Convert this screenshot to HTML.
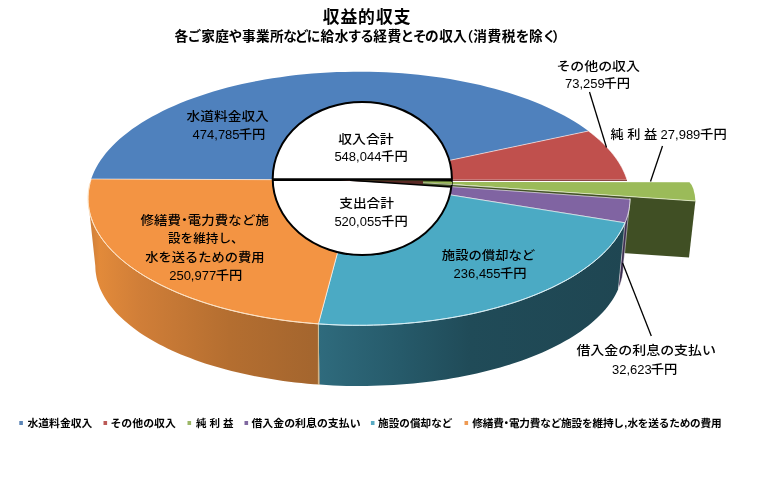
<!DOCTYPE html>
<html lang="ja"><head><meta charset="utf-8"><title>収益的収支</title>
<style>html,body{margin:0;padding:0;background:#fff}svg{display:block}</style></head>
<body>
<svg width="768" height="488" viewBox="0 0 768 488">
<defs>
<linearGradient id="gO" gradientUnits="userSpaceOnUse" x1="88" y1="0" x2="320" y2="0">
<stop offset="0" stop-color="#c97c3a"/><stop offset="0.05" stop-color="#e28a3a"/><stop offset="0.224" stop-color="#d07e38"/><stop offset="0.61" stop-color="#b46e30"/><stop offset="1" stop-color="#a3652e"/></linearGradient>
<linearGradient id="gT" gradientUnits="userSpaceOnUse" x1="318" y1="0" x2="628" y2="0">
<stop offset="0" stop-color="#2f6b7d"/><stop offset="0.265" stop-color="#265a6a"/><stop offset="0.49" stop-color="#204b58"/><stop offset="1" stop-color="#1f4652"/></linearGradient>
</defs>
<rect width="768" height="488" fill="#fff"/>
<path d="M423 182.4 L695.4 201 L689 257.5 L626 253.3 L600 251 L450 230 Z" fill="#404f24"/>
<path d="M318.4 323.9 L312.1 323.4 L305.8 322.8 L299.5 322.2 L293.2 321.5 L287.0 320.7 L280.9 319.9 L274.8 319.0 L268.7 318.1 L262.7 317.0 L256.7 315.9 L250.8 314.8 L244.9 313.5 L239.1 312.2 L233.4 310.9 L227.8 309.4 L222.2 308.0 L216.7 306.4 L211.3 304.8 L205.9 303.1 L200.7 301.4 L195.5 299.6 L190.5 297.8 L185.5 295.9 L180.6 294.0 L175.8 291.9 L171.1 289.9 L166.6 287.8 L162.1 285.6 L157.8 283.4 L153.5 281.2 L149.4 278.9 L145.4 276.5 L141.5 274.1 L137.7 271.7 L134.1 269.2 L130.6 266.7 L127.2 264.2 L123.9 261.6 L120.8 259.0 L117.8 256.3 L115.0 253.6 L112.2 250.9 L109.7 248.2 L107.2 245.4 L104.9 242.6 L102.7 239.8 L100.7 236.9 L98.9 234.0 L97.1 231.1 L95.6 228.2 L94.1 225.3 L92.8 222.4 L91.7 219.4 L90.7 216.5 L89.9 213.5 L89.2 210.5 L88.7 207.5 L88.3 204.5 L88.1 201.5 L88.0 198.5 L95.3 265.8 L95.4 268.6 L95.6 271.5 L96.0 274.3 L96.5 277.2 L97.1 280.0 L98.0 282.8 L98.9 285.6 L100.0 288.4 L101.3 291.2 L102.7 294.0 L104.2 296.7 L105.9 299.5 L107.7 302.2 L109.7 304.9 L111.8 307.6 L114.0 310.2 L116.4 312.9 L118.9 315.5 L121.6 318.1 L124.3 320.6 L127.3 323.1 L130.3 325.6 L133.5 328.1 L136.8 330.5 L140.2 332.9 L143.7 335.2 L147.4 337.5 L151.2 339.8 L155.1 342.0 L159.1 344.2 L163.3 346.3 L167.5 348.4 L171.8 350.4 L176.3 352.4 L180.9 354.4 L185.5 356.3 L190.3 358.1 L195.1 359.9 L200.1 361.7 L205.1 363.4 L210.2 365.0 L215.4 366.6 L220.7 368.1 L226.0 369.6 L231.5 371.0 L237.0 372.3 L242.5 373.6 L248.2 374.8 L253.9 376.0 L259.6 377.1 L265.4 378.1 L271.3 379.1 L277.2 380.0 L283.2 380.9 L289.2 381.7 L295.2 382.4 L301.3 383.1 L307.4 383.7 L313.6 384.2 L319.7 384.6Z" fill="url(#gO)"/>
<path d="M625.0 222.8 L623.6 226.0 L622.0 229.1 L620.2 232.2 L618.3 235.3 L616.2 238.4 L614.0 241.5 L611.5 244.5 L609.0 247.5 L606.2 250.4 L603.3 253.4 L600.2 256.3 L597.0 259.1 L593.6 261.9 L590.1 264.7 L586.4 267.4 L582.6 270.1 L578.6 272.8 L574.5 275.4 L570.3 277.9 L565.9 280.4 L561.3 282.8 L556.7 285.2 L551.9 287.6 L547.0 289.8 L542.0 292.0 L536.8 294.2 L531.5 296.3 L526.2 298.3 L520.7 300.3 L515.1 302.2 L509.4 304.0 L503.6 305.7 L497.7 307.4 L491.7 309.0 L485.7 310.6 L479.5 312.1 L473.3 313.5 L467.0 314.8 L460.7 316.0 L454.2 317.2 L447.7 318.3 L441.2 319.3 L434.6 320.3 L427.9 321.1 L421.2 321.9 L414.5 322.6 L407.7 323.2 L400.9 323.8 L394.1 324.2 L387.2 324.6 L380.4 324.9 L373.5 325.1 L366.6 325.3 L359.7 325.3 L352.8 325.3 L345.9 325.2 L339.0 325.0 L332.1 324.7 L325.2 324.3 L318.4 323.9 L319.7 384.6 L326.4 385.1 L333.1 385.4 L339.8 385.7 L346.5 385.9 L353.2 386.0 L359.9 386.0 L366.7 386.0 L373.4 385.8 L380.1 385.6 L386.8 385.3 L393.5 385.0 L400.1 384.6 L406.8 384.0 L413.4 383.5 L419.9 382.8 L426.4 382.0 L432.9 381.2 L439.4 380.3 L445.7 379.4 L452.1 378.3 L458.3 377.2 L464.5 376.0 L470.7 374.8 L476.7 373.5 L482.7 372.1 L488.6 370.6 L494.4 369.1 L500.2 367.5 L505.8 365.8 L511.4 364.1 L516.8 362.3 L522.1 360.4 L527.4 358.5 L532.5 356.5 L537.5 354.5 L542.4 352.4 L547.2 350.2 L551.9 348.0 L556.4 345.8 L560.8 343.4 L565.1 341.1 L569.3 338.7 L573.3 336.2 L577.1 333.7 L580.9 331.2 L584.4 328.6 L587.9 325.9 L591.2 323.3 L594.3 320.6 L597.3 317.8 L600.1 315.0 L602.8 312.2 L605.3 309.4 L607.7 306.5 L609.9 303.6 L611.9 300.7 L613.8 297.8 L615.5 294.8 L617.0 291.8 L618.4 288.8Z" fill="url(#gT)"/>
<path d="M630.0 198.5 L629.9 200.9 L629.8 203.4 L629.5 205.8 L629.2 208.3 L628.7 210.7 L628.2 213.1 L627.5 215.6 L626.8 218.0 L625.9 220.4 L625.0 222.8 L618.4 288.8 L619.3 286.6 L620.2 284.3 L620.9 282.0 L621.5 279.7 L622.1 277.4 L622.5 275.1 L622.9 272.7 L623.1 270.4 L623.3 268.1 L623.3 265.8Z" fill="#3d2f52" stroke="#fff" stroke-opacity="0.7" stroke-width="0.7"/>
<path d="M318.4 323.5 L318.4 385" stroke="#e6d3a8" stroke-width="0.8"/>
<path d="M357.0 180.0 L91.2 179.0 L92.6 175.2 L94.2 171.4 L96.1 167.7 L98.2 164.0 L100.6 160.3 L103.2 156.7 L106.0 153.0 L109.1 149.5 L112.4 146.0 L115.9 142.5 L119.6 139.1 L123.6 135.7 L127.8 132.4 L132.2 129.1 L136.8 125.9 L141.6 122.8 L146.6 119.8 L151.8 116.8 L157.2 113.9 L162.7 111.1 L168.5 108.3 L174.4 105.7 L180.5 103.1 L186.8 100.6 L193.2 98.2 L199.8 95.9 L206.5 93.7 L213.4 91.6 L220.4 89.5 L227.5 87.6 L234.7 85.8 L242.1 84.1 L249.6 82.5 L257.1 81.0 L264.8 79.6 L272.5 78.3 L280.4 77.2 L288.3 76.1 L296.2 75.1 L304.2 74.3 L312.3 73.6 L320.4 73.0 L328.6 72.5 L336.8 72.1 L345.0 71.9 L353.2 71.7 L361.4 71.7 L369.6 71.8 L377.8 72.0 L386.0 72.3 L394.2 72.8 L402.3 73.3 L410.4 74.0 L418.4 74.8 L426.4 75.7 L434.3 76.7 L442.2 77.8 L450.0 79.1 L457.7 80.4 L465.3 81.9 L472.8 83.4 L480.2 85.1 L487.5 86.9 L494.7 88.7 L501.7 90.7 L508.6 92.8 L515.4 95.0 L522.0 97.2 L528.5 99.6 L534.9 102.0 L541.0 104.6 L547.0 107.2 L552.9 109.9 L558.5 112.7 L564.0 115.6 L569.3 118.5 L574.4 121.5 L579.2 124.6 L583.9 127.8 L588.4 131.0Z" fill="#4f81bd"/>
<path d="M357.0 180.0 L588.4 131.0 L591.4 133.2 L594.2 135.5 L596.9 137.8 L599.6 140.1 L602.1 142.5 L604.5 144.8 L606.9 147.2 L609.1 149.7 L611.2 152.1 L613.2 154.6 L615.1 157.0 L616.9 159.5 L618.6 162.0 L620.1 164.6 L621.6 167.1 L622.9 169.7 L624.1 172.2 L625.2 174.8 L626.2 177.4 L627.1 180.0Z" fill="#c0504d" stroke="#fff" stroke-opacity="0.75" stroke-width="0.8" stroke-linejoin="round"/>
<path d="M357.0 180.0 L630.0 199.2 L629.9 201.6 L629.7 203.9 L629.5 206.3 L629.1 208.7 L628.7 211.1 L628.1 213.4 L627.5 215.8 L626.7 218.1 L625.9 220.5 L625.0 222.8Z" fill="#8064a2" stroke="#fff" stroke-opacity="0.75" stroke-width="0.8" stroke-linejoin="round"/>
<path d="M357.0 180.0 L625.0 222.8 L623.6 226.0 L622.0 229.1 L620.2 232.2 L618.3 235.3 L616.2 238.4 L614.0 241.5 L611.5 244.5 L609.0 247.5 L606.2 250.4 L603.3 253.4 L600.2 256.3 L597.0 259.1 L593.6 261.9 L590.1 264.7 L586.4 267.4 L582.6 270.1 L578.6 272.8 L574.5 275.4 L570.3 277.9 L565.9 280.4 L561.3 282.8 L556.7 285.2 L551.9 287.6 L547.0 289.8 L542.0 292.0 L536.8 294.2 L531.5 296.3 L526.2 298.3 L520.7 300.3 L515.1 302.2 L509.4 304.0 L503.6 305.7 L497.7 307.4 L491.7 309.0 L485.7 310.6 L479.5 312.1 L473.3 313.5 L467.0 314.8 L460.7 316.0 L454.2 317.2 L447.7 318.3 L441.2 319.3 L434.6 320.3 L427.9 321.1 L421.2 321.9 L414.5 322.6 L407.7 323.2 L400.9 323.8 L394.1 324.2 L387.2 324.6 L380.4 324.9 L373.5 325.1 L366.6 325.3 L359.7 325.3 L352.8 325.3 L345.9 325.2 L339.0 325.0 L332.1 324.7 L325.2 324.3 L318.4 323.9Z" fill="#4baac4" stroke="#fff" stroke-opacity="0.75" stroke-width="0.8" stroke-linejoin="round"/>
<path d="M357.0 180.0 L318.4 323.9 L311.4 323.3 L304.4 322.7 L297.4 322.0 L290.5 321.2 L283.7 320.3 L276.9 319.3 L270.1 318.3 L263.4 317.2 L256.8 315.9 L250.3 314.6 L243.8 313.3 L237.4 311.8 L231.1 310.3 L224.9 308.7 L218.7 307.0 L212.7 305.2 L206.7 303.4 L200.9 301.5 L195.2 299.5 L189.6 297.5 L184.1 295.4 L178.7 293.2 L173.5 290.9 L168.4 288.6 L163.4 286.2 L158.5 283.8 L153.8 281.3 L149.2 278.8 L144.8 276.2 L140.5 273.5 L136.4 270.8 L132.4 268.0 L128.6 265.2 L124.9 262.4 L121.4 259.5 L118.1 256.5 L114.9 253.6 L111.9 250.6 L109.1 247.5 L106.4 244.4 L103.9 241.3 L101.6 238.2 L99.5 235.0 L97.5 231.8 L95.7 228.6 L94.1 225.3 L92.7 222.1 L91.5 218.8 L90.4 215.5 L89.6 212.2 L88.9 208.9 L88.4 205.5 L88.1 202.2 L88.0 198.9 L88.1 195.6 L88.3 192.2 L88.8 188.9 L89.4 185.6 L90.2 182.3 L91.2 179.0Z" fill="#f39443" stroke="#fff" stroke-opacity="0.75" stroke-width="0.8" stroke-linejoin="round"/>
<path d="M440 180.4 L627 180.4" stroke="#7d3331" stroke-width="1"/>
<path d="M318.4 323.9 L311.5 323.3 L304.7 322.7 L297.9 322.0 L291.1 321.3 L284.4 320.4 L277.8 319.5 L271.2 318.5 L264.6 317.4 L258.1 316.2 L251.7 314.9 L245.3 313.6 L239.1 312.2 L232.9 310.7 L226.7 309.2 L220.7 307.6 L214.8 305.9 L208.9 304.1 L203.2 302.2 L197.6 300.3 L192.0 298.4 L186.6 296.3 L181.3 294.2 L176.1 292.1 L171.0 289.8 L166.1 287.5 L161.2 285.2 L156.6 282.8 L152.0 280.3 L147.6 277.8 L143.3 275.3 L139.2 272.6 L135.2 270.0 L131.3 267.3 L127.6 264.5 L124.1 261.7 L120.7 258.9 L117.4 256.0 L114.4 253.1 L111.5 250.1 L108.7 247.1 L106.1 244.1 L103.7 241.0 L101.5 238.0 L99.4 234.9 L97.5 231.7 L95.7 228.6 L94.2 225.4 L92.8 222.2 L91.6 219.0 L90.5 215.8 L89.7 212.6 L89.0 209.3 L88.5 206.1 L88.2 202.8 L88.0 199.6 L88.0 196.3 L88.3 193.1 L88.6 189.8 L89.2 186.6 L89.9 183.3" fill="none" stroke="#fde3c4" stroke-width="1"/>
<path d="M625.0 222.8 L623.6 226.0 L622.0 229.1 L620.2 232.2 L618.3 235.3 L616.2 238.4 L614.0 241.5 L611.5 244.5 L609.0 247.5 L606.2 250.4 L603.3 253.4 L600.2 256.3 L597.0 259.1 L593.6 261.9 L590.1 264.7 L586.4 267.4 L582.6 270.1 L578.6 272.8 L574.5 275.4 L570.3 277.9 L565.9 280.4 L561.3 282.8 L556.7 285.2 L551.9 287.6 L547.0 289.8 L542.0 292.0 L536.8 294.2 L531.5 296.3 L526.2 298.3 L520.7 300.3 L515.1 302.2 L509.4 304.0 L503.6 305.7 L497.7 307.4 L491.7 309.0 L485.7 310.6 L479.5 312.1 L473.3 313.5 L467.0 314.8 L460.7 316.0 L454.2 317.2 L447.7 318.3 L441.2 319.3 L434.6 320.3 L427.9 321.1 L421.2 321.9 L414.5 322.6 L407.7 323.2 L400.9 323.8 L394.1 324.2 L387.2 324.6 L380.4 324.9 L373.5 325.1 L366.6 325.3 L359.7 325.3 L352.8 325.3 L345.9 325.2 L339.0 325.0 L332.1 324.7 L325.2 324.3 L318.4 323.9" fill="none" stroke="#d5eef5" stroke-width="1"/>
<path d="M423 182 L689.5 182.3 Q694.5 187 695.4 201 Z" fill="#9bbb59"/>
<path d="M423 182.6 L695.4 201" stroke="#e8f0d0" stroke-width="0.8" fill="none"/>
<ellipse cx="362.3" cy="178.5" rx="89.6" ry="76.6" fill="#fff" stroke="#000" stroke-width="2"/>
<path d="M272.5 179.6 L451.5 179.6" stroke="#000" stroke-width="2.6"/>
<path d="M352 180.2 L423 180.6 L451 181 L451 187 Z" fill="#3a4a20"/>
<path d="M340 180.4 L423 180.8 L423 184.4 Z" fill="#5a2a25"/>
<path d="M423 181.6 L452 181.8 L452 184.1 L423 182.6 Z" fill="#9bbb59"/>
<path d="M423 182.8 L452 184.5" stroke="#e6efcf" stroke-width="0.7"/>
<path d="M350 180.2 L451.3 187" stroke="#000" stroke-width="1.5"/>
<path d="M589.5 92 L606.5 147.5" stroke="#000" stroke-width="1.3"/>
<path d="M662.5 146 L650.5 181.5" stroke="#000" stroke-width="1.3"/>
<path d="M622.6 262.9 L651.3 336.1" stroke="#000" stroke-width="1.3"/>
<text x="322.68 340.58 357.95 375.98 393.70" y="22.60" font-size="16.8" font-weight="700" fill="#000" font-family="'Liberation Sans','Noto Sans CJK JP',sans-serif">収益的収支</text>
<text x="174.57 187.47 201.30 215.22 228.48 241.88 255.88 270.05 283.20 294.65 306.85 320.38 334.73 347.85 360.27 373.15 387.62 400.43 412.88 425.12 439.15 453.12 459.70 473.30 487.48 501.82 515.77 528.95 542.42 552.28" y="41.10" font-size="13.7" font-weight="700" fill="#000" font-family="'Liberation Sans','Noto Sans CJK JP',sans-serif">各ご家庭や事業所などに給水する経費とその収入（消費税を除く）</text>
<text x="186.60" y="121.30" font-size="12.4" text-anchor="start" font-weight="500" fill="#000" font-family="'Liberation Sans','Noto Sans CJK JP',sans-serif" textLength="82.20" lengthAdjust="spacingAndGlyphs">水道料金収入</text>
<text y="138.70" font-size="12.4" font-weight="500" fill="#000" font-family="'Liberation Sans','Noto Sans CJK JP',sans-serif"><tspan x="192.60" font-size="12.0" font-weight="400" textLength="46.98" lengthAdjust="spacingAndGlyphs">474,785</tspan><tspan x="238.80" textLength="26.6" lengthAdjust="spacingAndGlyphs">千円</tspan></text>
<text x="556.40" y="71.10" font-size="12.4" text-anchor="start" font-weight="500" fill="#000" font-family="'Liberation Sans','Noto Sans CJK JP',sans-serif" textLength="83.60" lengthAdjust="spacingAndGlyphs">その他の収入</text>
<text y="88.00" font-size="12.4" font-weight="500" fill="#000" font-family="'Liberation Sans','Noto Sans CJK JP',sans-serif"><tspan x="565.00" font-size="12.0" font-weight="400" textLength="39.75" lengthAdjust="spacingAndGlyphs">73,259</tspan><tspan x="603.40" textLength="26.6" lengthAdjust="spacingAndGlyphs">千円</tspan></text>
<text y="138.80" font-size="12.4" font-weight="500" fill="#000" font-family="'Liberation Sans','Noto Sans CJK JP',sans-serif"><tspan x="610.4" textLength="50.6" lengthAdjust="spacingAndGlyphs">純 利 益 </tspan><tspan x="660.6" font-size="12.0" font-weight="400" textLength="39.75" lengthAdjust="spacingAndGlyphs">27,989</tspan><tspan x="700.1" textLength="26.6" lengthAdjust="spacingAndGlyphs">千円</tspan></text>
<text x="338.20" y="143.60" font-size="12.4" text-anchor="start" font-weight="500" fill="#000" font-family="'Liberation Sans','Noto Sans CJK JP',sans-serif" textLength="55.40" lengthAdjust="spacingAndGlyphs">収入合計</text>
<text y="161.30" font-size="12.4" font-weight="500" fill="#000" font-family="'Liberation Sans','Noto Sans CJK JP',sans-serif"><tspan x="334.40" font-size="12.0" font-weight="400" textLength="46.98" lengthAdjust="spacingAndGlyphs">548,044</tspan><tspan x="381.10" textLength="26.6" lengthAdjust="spacingAndGlyphs">千円</tspan></text>
<text x="339.20" y="208.00" font-size="12.4" text-anchor="start" font-weight="500" fill="#000" font-family="'Liberation Sans','Noto Sans CJK JP',sans-serif" textLength="54.80" lengthAdjust="spacingAndGlyphs">支出合計</text>
<text y="226.00" font-size="12.4" font-weight="500" fill="#000" font-family="'Liberation Sans','Noto Sans CJK JP',sans-serif"><tspan x="334.40" font-size="12.0" font-weight="400" textLength="46.98" lengthAdjust="spacingAndGlyphs">520,055</tspan><tspan x="381.10" textLength="26.6" lengthAdjust="spacingAndGlyphs">千円</tspan></text>
<text transform="scale(1.0806,1)" x="129.98 142.50 155.01 164.40 173.79 186.31 198.82 211.34 223.86 236.37" y="225.00" font-size="12.4" font-weight="500" fill="#000" font-family="'Liberation Sans','Noto Sans CJK JP',sans-serif">修繕費・電力費など施</text>
<text x="168.00" y="243.20" font-size="12.4" text-anchor="start" font-weight="500" fill="#000" font-family="'Liberation Sans','Noto Sans CJK JP',sans-serif" textLength="75.60" lengthAdjust="spacingAndGlyphs">設を維持し、</text>
<text x="145.20" y="261.50" font-size="12.4" text-anchor="start" font-weight="500" fill="#000" font-family="'Liberation Sans','Noto Sans CJK JP',sans-serif" textLength="119.40" lengthAdjust="spacingAndGlyphs">水を送るための費用</text>
<text y="280.30" font-size="12.4" font-weight="500" fill="#000" font-family="'Liberation Sans','Noto Sans CJK JP',sans-serif"><tspan x="169.20" font-size="12.0" font-weight="400" textLength="46.98" lengthAdjust="spacingAndGlyphs">250,977</tspan><tspan x="215.70" textLength="26.6" lengthAdjust="spacingAndGlyphs">千円</tspan></text>
<text x="441.80" y="260.30" font-size="12.4" text-anchor="start" font-weight="500" fill="#000" font-family="'Liberation Sans','Noto Sans CJK JP',sans-serif" textLength="93.40" lengthAdjust="spacingAndGlyphs">施設の償却など</text>
<text y="278.00" font-size="12.4" font-weight="500" fill="#000" font-family="'Liberation Sans','Noto Sans CJK JP',sans-serif"><tspan x="453.60" font-size="12.0" font-weight="400" textLength="46.98" lengthAdjust="spacingAndGlyphs">236,455</tspan><tspan x="499.90" textLength="26.6" lengthAdjust="spacingAndGlyphs">千円</tspan></text>
<text x="576.40" y="355.20" font-size="12.4" text-anchor="start" font-weight="500" fill="#000" font-family="'Liberation Sans','Noto Sans CJK JP',sans-serif" textLength="139.60" lengthAdjust="spacingAndGlyphs">借入金の利息の支払い</text>
<text y="373.90" font-size="12.4" font-weight="500" fill="#000" font-family="'Liberation Sans','Noto Sans CJK JP',sans-serif"><tspan x="612.00" font-size="12.0" font-weight="400" textLength="39.75" lengthAdjust="spacingAndGlyphs">32,623</tspan><tspan x="650.70" textLength="26.6" lengthAdjust="spacingAndGlyphs">千円</tspan></text>
<text x="27.40" y="426.60" font-size="10.67" text-anchor="start" font-weight="700" fill="#000" font-family="'Liberation Sans','Noto Sans CJK JP',sans-serif" textLength="65.00" lengthAdjust="spacingAndGlyphs">水道料金収入</text>
<text x="110.40" y="426.60" font-size="10.67" text-anchor="start" font-weight="700" fill="#000" font-family="'Liberation Sans','Noto Sans CJK JP',sans-serif" textLength="65.60" lengthAdjust="spacingAndGlyphs">その他の収入</text>
<text x="196.00" y="426.60" font-size="10.67" text-anchor="start" font-weight="700" fill="#000" font-family="'Liberation Sans','Noto Sans CJK JP',sans-serif" textLength="37.40" lengthAdjust="spacingAndGlyphs">純 利 益</text>
<text x="251.40" y="426.60" font-size="10.67" text-anchor="start" font-weight="700" fill="#000" font-family="'Liberation Sans','Noto Sans CJK JP',sans-serif" textLength="109.20" lengthAdjust="spacingAndGlyphs">借入金の利息の支払い</text>
<text x="378.00" y="426.60" font-size="10.67" text-anchor="start" font-weight="700" fill="#000" font-family="'Liberation Sans','Noto Sans CJK JP',sans-serif" textLength="74.40" lengthAdjust="spacingAndGlyphs">施設の償却など</text>
<text x="472.37 482.81 493.25 501.08 508.91 519.35 529.80 540.24 550.68 561.12 571.56 582.01 592.45 602.89 613.33 624.22 627.43 637.87 648.31 658.75 669.20 679.64 690.08 700.52 710.96" y="426.60" font-size="10.67" font-weight="700" fill="#000" font-family="'Liberation Sans','Noto Sans CJK JP',sans-serif">修繕費・電力費など施設を維持し,水を送るための費用</text>
<rect x="19.3" y="421" width="3.6" height="4" fill="#5a84b6"/>
<rect x="103.5" y="421" width="3.6" height="4" fill="#bb5a57"/>
<rect x="187.5" y="421" width="3.6" height="4" fill="#9cb767"/>
<rect x="244.5" y="421" width="3.6" height="4" fill="#8068a0"/>
<rect x="370.9" y="421" width="3.6" height="4" fill="#58aac2"/>
<rect x="464.5" y="421" width="3.6" height="4" fill="#ee9a54"/>
</svg>
</body></html>
